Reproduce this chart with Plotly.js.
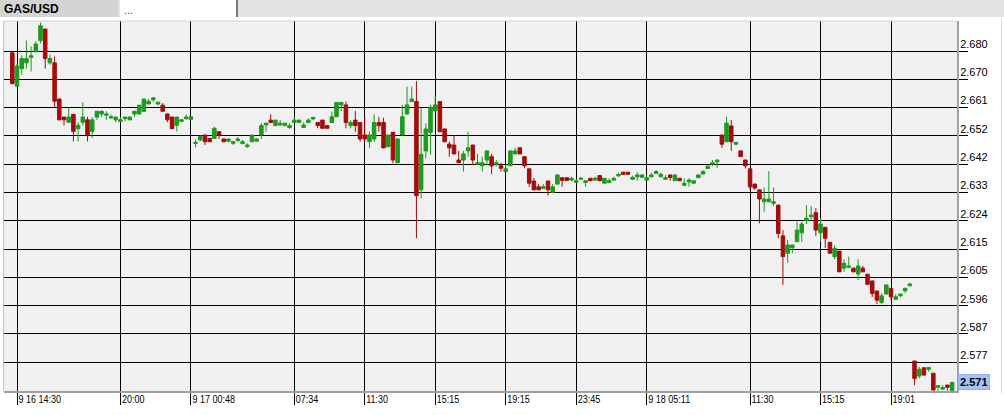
<!DOCTYPE html>
<html><head><meta charset="utf-8">
<script src="https://cdn.plot.ly/plotly-3.0.1.min.js"></script>
<style>html,body{margin:0;padding:0;background:#fff;overflow:hidden;}#chart{width:1004px;height:415px;}</style>
</head><body><div id="chart"></div>
<script>
const symbol = 'GAS/USD';
const tabText = '...';

const open = [
2.6790,2.6680,2.6738,2.6757,2.6775,2.6793,2.6830,2.6868,2.6757,2.6757,
2.6638,2.6579,2.6562,2.6588,2.6541,2.6562,2.6570,2.6532,2.6579,2.6589,
2.6585,2.6576,2.6570,2.6565,2.6574,2.6570,2.6589,2.6589,2.6598,2.6622,
2.6636,2.6622,2.6618,2.6589,2.6579,2.6552,2.6565,2.6574,2.6571,2.6492,
2.6504,2.6520,2.6509,2.6509,2.6531,2.6507,2.6500,2.6493,2.6502,2.6492,
2.6482,2.6498,2.6500,2.6520,2.6553,2.6569,2.6551,2.6553,2.6551,2.6544,
2.6561,2.6561,2.6545,2.6561,2.6573,2.6561,2.6569,2.6551,2.6561,2.6580,
2.6619,2.6619,2.6551,2.6569,2.6561,2.6520,2.6498,2.6507,2.6561,2.6561,
2.6482,2.6529,2.6429,2.6520,2.6589,2.6630,2.6630,2.6340,2.6468,2.6529,
2.6599,2.6630,2.6540,2.6490,2.6487,2.6438,2.6438,2.6468,2.6487,2.6424,
2.6419,2.6438,2.6449,2.6422,2.6419,2.6400,2.6419,2.6458,2.6478,2.6449,
2.6409,2.6369,2.6350,2.6345,2.6369,2.6332,2.6359,2.6380,2.6380,2.6372,
2.6365,2.6375,2.6364,2.6378,2.6372,2.6387,2.6362,2.6364,2.6372,2.6386,
2.6398,2.6398,2.6375,2.6383,2.6381,2.6372,2.6383,2.6394,2.6383,2.6375,
2.6389,2.6370,2.6378,2.6355,2.6366,2.6362,2.6380,2.6392,2.6410,2.6424,
2.6432,2.6520,2.6498,2.6550,2.6490,2.6468,2.6438,2.6409,2.6359,2.6340,
2.6301,2.6301,2.6296,2.6290,2.6189,2.6132,2.6150,2.6170,2.6199,2.6239,
2.6252,2.6265,2.6199,2.6217,2.6168,2.6121,2.6139,2.6083,2.6086,2.6083,
2.6064,2.6083,2.6063,2.6041,2.6008,2.5970,2.5998,2.6017,2.5981,2.5992,
2.6009,2.6025,2.5778,2.5729,2.5756,2.5751,2.5738,2.5692,2.5686,2.5699,
2.5681];

const high = [
2.6792,2.6753,2.6782,2.6830,2.6811,2.6828,2.6889,2.6868,2.6784,2.6778,
2.6640,2.6579,2.6609,2.6588,2.6562,2.6628,2.6579,2.6579,2.6598,2.6600,
2.6598,2.6587,2.6580,2.6579,2.6580,2.6580,2.6599,2.6619,2.6640,2.6638,
2.6645,2.6629,2.6625,2.6590,2.6580,2.6580,2.6572,2.6587,2.6581,2.6506,
2.6520,2.6521,2.6510,2.6547,2.6532,2.6508,2.6508,2.6499,2.6514,2.6504,
2.6493,2.6521,2.6509,2.6559,2.6560,2.6588,2.6570,2.6569,2.6560,2.6559,
2.6578,2.6570,2.6561,2.6575,2.6580,2.6562,2.6570,2.6552,2.6597,2.6628,
2.6628,2.6630,2.6569,2.6599,2.6562,2.6580,2.6531,2.6588,2.6580,2.6577,
2.6521,2.6530,2.6508,2.6619,2.6679,2.6679,2.6697,2.6610,2.6559,2.6619,
2.6649,2.6631,2.6541,2.6498,2.6520,2.6468,2.6468,2.6531,2.6488,2.6458,
2.6449,2.6469,2.6458,2.6438,2.6429,2.6422,2.6469,2.6478,2.6479,2.6450,
2.6410,2.6379,2.6359,2.6359,2.6370,2.6359,2.6390,2.6381,2.6381,2.6383,
2.6375,2.6383,2.6371,2.6379,2.6383,2.6388,2.6379,2.6378,2.6383,2.6396,
2.6399,2.6399,2.6387,2.6398,2.6390,2.6389,2.6396,2.6405,2.6396,2.6389,
2.6390,2.6390,2.6379,2.6378,2.6378,2.6371,2.6390,2.6405,2.6419,2.6438,
2.6439,2.6521,2.6580,2.6569,2.6497,2.6469,2.6439,2.6410,2.6360,2.6341,
2.6348,2.6402,2.6348,2.6291,2.6208,2.6175,2.6160,2.6236,2.6236,2.6290,
2.6287,2.6280,2.6247,2.6218,2.6169,2.6159,2.6140,2.6112,2.6121,2.6084,
2.6112,2.6090,2.6064,2.6042,2.6009,2.6001,2.6029,2.6018,2.5998,2.5999,
2.6018,2.6035,2.5779,2.5759,2.5757,2.5758,2.5739,2.5698,2.5699,2.5700,
2.5709];

const low = [
2.6686,2.6678,2.6718,2.6738,2.6729,2.6793,2.6821,2.6738,2.6751,2.6611,
2.6568,2.6552,2.6562,2.6499,2.6499,2.6552,2.6499,2.6510,2.6570,2.6579,
2.6570,2.6574,2.6562,2.6562,2.6565,2.6568,2.6579,2.6589,2.6597,2.6622,
2.6629,2.6618,2.6598,2.6562,2.6540,2.6532,2.6562,2.6570,2.6570,2.6480,
2.6500,2.6487,2.6497,2.6507,2.6507,2.6497,2.6496,2.6487,2.6498,2.6490,
2.6478,2.6497,2.6498,2.6507,2.6531,2.6560,2.6550,2.6552,2.6550,2.6542,
2.6560,2.6560,2.6544,2.6560,2.6569,2.6542,2.6541,2.6541,2.6560,2.6579,
2.6599,2.6542,2.6542,2.6531,2.6498,2.6498,2.6478,2.6498,2.6531,2.6476,
2.6480,2.6427,2.6428,2.6519,2.6588,2.6629,2.6181,2.6312,2.6444,2.6455,
2.6598,2.6530,2.6497,2.6449,2.6457,2.6428,2.6400,2.6449,2.6422,2.6422,
2.6400,2.6422,2.6391,2.6419,2.6400,2.6398,2.6418,2.6457,2.6457,2.6411,
2.6350,2.6339,2.6339,2.6343,2.6321,2.6329,2.6358,2.6350,2.6370,2.6369,
2.6362,2.6372,2.6350,2.6369,2.6371,2.6369,2.6361,2.6362,2.6371,2.6383,
2.6390,2.6390,2.6372,2.6370,2.6380,2.6371,2.6382,2.6393,2.6382,2.6372,
2.6370,2.6369,2.6369,2.6353,2.6350,2.6361,2.6379,2.6391,2.6409,2.6418,
2.6411,2.6478,2.6497,2.6468,2.6489,2.6448,2.6410,2.6340,2.6340,2.6230,
2.6268,2.6300,2.6287,2.6181,2.6028,2.6101,2.6132,2.6169,2.6170,2.6228,
2.6241,2.6189,2.6170,2.6150,2.6131,2.6112,2.6070,2.6071,2.6083,2.6070,
2.6044,2.6070,2.6029,2.5988,2.5965,2.5965,2.5997,2.5978,2.5978,2.5989,
2.6001,2.6024,2.5699,2.5721,2.5731,2.5743,2.5682,2.5681,2.5683,2.5681,
2.5680];

const close = [
2.6689,2.6746,2.6771,2.6771,2.6780,2.6819,2.6879,2.6771,2.6771,2.6631,
2.6570,2.6570,2.6579,2.6532,2.6552,2.6579,2.6521,2.6570,2.6598,2.6598,
2.6589,2.6580,2.6579,2.6570,2.6579,2.6579,2.6598,2.6618,2.6638,2.6631,
2.6642,2.6628,2.6598,2.6570,2.6541,2.6579,2.6570,2.6579,2.6580,2.6496,
2.6515,2.6498,2.6498,2.6542,2.6520,2.6498,2.6507,2.6498,2.6507,2.6498,
2.6487,2.6520,2.6507,2.6551,2.6559,2.6561,2.6569,2.6559,2.6559,2.6551,
2.6569,2.6569,2.6553,2.6569,2.6578,2.6551,2.6542,2.6542,2.6580,2.6627,
2.6627,2.6561,2.6561,2.6551,2.6507,2.6507,2.6520,2.6561,2.6551,2.6478,
2.6520,2.6438,2.6507,2.6580,2.6619,2.6638,2.6321,2.6457,2.6540,2.6611,
2.6619,2.6531,2.6498,2.6478,2.6458,2.6429,2.6458,2.6478,2.6438,2.6429,
2.6429,2.6468,2.6419,2.6429,2.6411,2.6409,2.6468,2.6468,2.6458,2.6419,
2.6362,2.6340,2.6340,2.6350,2.6340,2.6350,2.6389,2.6371,2.6371,2.6378,
2.6370,2.6378,2.6370,2.6370,2.6378,2.6370,2.6378,2.6370,2.6378,2.6391,
2.6391,2.6391,2.6381,2.6389,2.6389,2.6380,2.6389,2.6400,2.6391,2.6380,
2.6381,2.6389,2.6370,2.6362,2.6372,2.6370,2.6389,2.6400,2.6418,2.6429,
2.6438,2.6490,2.6559,2.6498,2.6496,2.6449,2.6419,2.6350,2.6346,2.6310,
2.6310,2.6310,2.6301,2.6197,2.6121,2.6159,2.6159,2.6208,2.6228,2.6247,
2.6257,2.6208,2.6228,2.6181,2.6132,2.6148,2.6071,2.6099,2.6090,2.6071,
2.6090,2.6071,2.6030,2.6000,2.5978,2.5992,2.6028,2.5989,2.5989,2.5998,
2.6017,2.6031,2.5721,2.5751,2.5732,2.5757,2.5683,2.5697,2.5691,2.5692,
2.5708];

const xTickIndex = [1, 23, 38, 60, 75, 90, 105, 120, 135, 157, 172, 187];
const xTickLabels = ['9 16 14:30','20:00','9 17 00:48','07:34','11:30','15:15','19:15','23:45','9 18 05:11','11:30','15:15','19:01'];
const yTickValues = [2.5774,2.58669,2.59598,2.60527,2.61456,2.62385,2.63314,2.64243,2.65172,2.66101,2.6703,2.67959];
const yTickLabels = ['2.577','2.587','2.596','2.605','2.615','2.624','2.633','2.642','2.652','2.661','2.670','2.680'];

const GREEN = '#1e9a1e', RED = '#a50c0c';
const idx = open.map((_, i) => i);

// page pixel -> paper helpers (plot area: x 4..957, y 21..391)
const PL = 4, PR = 957, PT = 21, PB = 391;
const px = v => (v - PL) / (PR - PL);
const py = v => (PB - v) / (PB - PT);

const trace = {
  type: 'candlestick', x: idx, open, high, low, close,
  increasing: {line: {color: GREEN, width: 1}, fillcolor: GREEN},
  decreasing: {line: {color: RED, width: 1}, fillcolor: RED},
  whiskerwidth: 0, hoverinfo: 'skip', showlegend: false
};

const fontBase = 'Liberation Sans, Arial, sans-serif';
const layout = {
  width: 1004, height: 415,
  margin: {l: PL, r: 1004 - PR, t: PT, b: 415 - PB, pad: 0},
  paper_bgcolor: '#ffffff', plot_bgcolor: '#f0f0f0',
  boxgap: 0.25, boxgroupgap: 0,
  showlegend: false,
  font: {family: fontBase, size: 11, color: '#000'},
  xaxis: {
    range: [-1.77, 201.04], tickmode: 'array', tickvals: xTickIndex, ticktext: xTickLabels,
    showgrid: true, gridcolor: '#000000', gridwidth: 1, zeroline: false,
    showline: true, linecolor: '#a0a0a0', linewidth: 2,
    ticks: 'outside', ticklen: 12, tickcolor: '#000', tickwidth: 1,
    ticklabelposition: 'outside right', ticklabelstandoff: -3,
    tickfont: {family: fontBase, size: 11, color: '#000'},
    rangeslider: {visible: false}, fixedrange: true
  },
  yaxis: {
    side: 'right', range: [2.56797, 2.68944], tickmode: 'array', tickvals: yTickValues, ticktext: yTickLabels,
    showgrid: true, gridcolor: '#000000', gridwidth: 1, zeroline: false,
    showline: true, linecolor: '#a0a0a0', linewidth: 2,
    ticks: 'outside', ticklen: 9, tickcolor: '#000', tickwidth: 1,
    ticklabelshift: -7, ticklabelstandoff: -10,
    tickfont: {family: fontBase, size: 11, color: '#000'}, fixedrange: true
  },
  shapes: [
    {type: 'rect', xref: 'paper', yref: 'paper', x0: px(0), x1: px(1004), y0: py(17), y1: py(0), fillcolor: '#e3e3e3', line: {width: 0}, layer: 'above'},
    {type: 'rect', xref: 'paper', yref: 'paper', x0: px(0), x1: px(118), y0: py(17), y1: py(0), fillcolor: '#d4d4d4', line: {width: 0}, layer: 'above'},
    {type: 'rect', xref: 'paper', yref: 'paper', x0: px(120), x1: px(236), y0: py(17), y1: py(0), fillcolor: '#ffffff', line: {width: 0}, layer: 'above'},
    {type: 'rect', xref: 'paper', yref: 'paper', x0: px(236), x1: px(238), y0: py(17), y1: py(0), fillcolor: '#7a7a7a', line: {width: 0}, layer: 'above'},
    {type: 'line', xref: 'paper', yref: 'paper', x0: px(3.5), x1: px(3.5), y0: py(391), y1: py(21), line: {color: '#c8c8c8', width: 1}},
    {type: 'line', xref: 'paper', yref: 'paper', x0: px(3.5), x1: px(957), y0: py(21), y1: py(21), line: {color: '#d4d4d4', width: 1}},
    {type: 'line', xref: 'paper', yref: 'paper', x0: px(1001.5), x1: px(1001.5), y0: py(393), y1: py(19), line: {color: '#d8d8d8', width: 1}}
  ],
  annotations: [
    {xref: 'paper', yref: 'paper', x: px(2), y: py(8.5), xanchor: 'left', yanchor: 'middle', showarrow: false,
     text: '<b>' + symbol + '</b>', font: {family: fontBase, size: 12, color: '#000'}},
    {xref: 'paper', yref: 'paper', x: px(122), y: py(10), xanchor: 'left', yanchor: 'middle', showarrow: false,
     text: tabText, font: {family: fontBase, size: 11, color: '#7b1c1c'}},
    {xref: 'paper', yref: 'y', x: px(958), y: close[close.length - 1], xanchor: 'left', yanchor: 'middle', showarrow: false,
     text: '<b>' + close[close.length - 1].toFixed(3) + '</b>', bgcolor: '#a6c3f5', bordercolor: '#8fb0ee', borderwidth: 1, borderpad: 1,
     font: {family: fontBase, size: 11, color: '#000'}}
  ]
};

Plotly.newPlot('chart', [trace], layout, {displayModeBar: false, staticPlot: true}).then(() => {
  // condense the time labels to match the narrow face of the original
  document.querySelectorAll('#chart .xtick text').forEach(t => {
    const w = t.getComputedTextLength();
    if (w > 0) {
      t.setAttribute('textLength', (w * 0.82).toFixed(1));
      t.setAttribute('lengthAdjust', 'spacingAndGlyphs');
    }
  });
});
</script></body></html>
